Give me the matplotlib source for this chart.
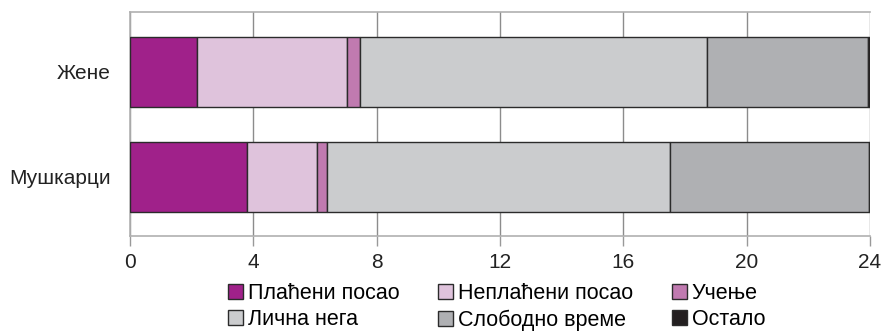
import matplotlib
matplotlib.use("Agg")
import matplotlib.pyplot as plt
from matplotlib.patches import Patch

plt.rcParams['font.family'] = ['Liberation Sans', 'DejaVu Sans']

groups = ['Мушкарци', 'Жене']
categories = ['Плаћени посао', 'Неплаћени посао', 'Учење', 'Лична нега', 'Слободно време', 'Остало']
values = {
    'Плаћени посао':   [3.80, 2.16],
    'Неплаћени посао': [2.27, 4.87],
    'Учење':           [0.33, 0.43],
    'Лична нега':      [11.10, 11.24],
    'Слободно време':  [6.48, 5.25],
    'Остало':          [0.02, 0.05],
}
colors = ['#A0218A', '#DFC3DC', '#C07AB0', '#CBCCCE', '#AFB0B3', '#231F20']
xticks = [0, 4, 8, 12, 16, 20, 24]

fig = plt.figure(figsize=(8.84, 3.34), dpi=100)
ax = fig.add_axes([130/884, (334-236)/334, 740/884, 224/334])

ypos = [0, 1]
left = [0.0, 0.0]
for cat, col in zip(categories, colors):
    v = values[cat]
    ax.barh(ypos, v, left=left, height=0.667, color=col, edgecolor='#2b2b2b',
            linewidth=1.0, zorder=3, label=cat)
    left = [l + x for l, x in zip(left, v)]

ax.set_xlim(0, 24)
ax.set_ylim(-0.562, 1.571)
ax.set_xticks(xticks)
ax.set_xticklabels([str(t) for t in xticks], fontsize=15, color='#222222')
ax.set_yticks(ypos)
ax.set_yticklabels(groups, fontsize=15, color='#222222')
ax.tick_params(axis='y', length=0, pad=14)
ax.tick_params(axis='x', length=7, width=1, color='#999999', pad=5)
ax.grid(axis='x', color='#8c8c8c', linewidth=1, zorder=0)
for s in ['top', 'left', 'bottom', 'right']:
    ax.spines[s].set_color('#b0b0b0')
    ax.spines[s].set_linewidth(1.2)
ax.spines['right'].set_visible(False)

handles = [Patch(facecolor=c, edgecolor='#2b2b2b', linewidth=1.0) for c in colors]
order = [0, 3, 1, 4, 2, 5]
fig.legend([handles[i] for i in order], [categories[i] for i in order],
           ncol=3, loc='upper left', bbox_to_anchor=(228/884, 1 - 283/334),
           frameon=False, fontsize=15.5, handlelength=0.7, handleheight=0.7,
           handletextpad=0.22, columnspacing=1.8, labelspacing=0.25,
           borderaxespad=0, borderpad=0)

fig.savefig('out.png', dpi=100)
